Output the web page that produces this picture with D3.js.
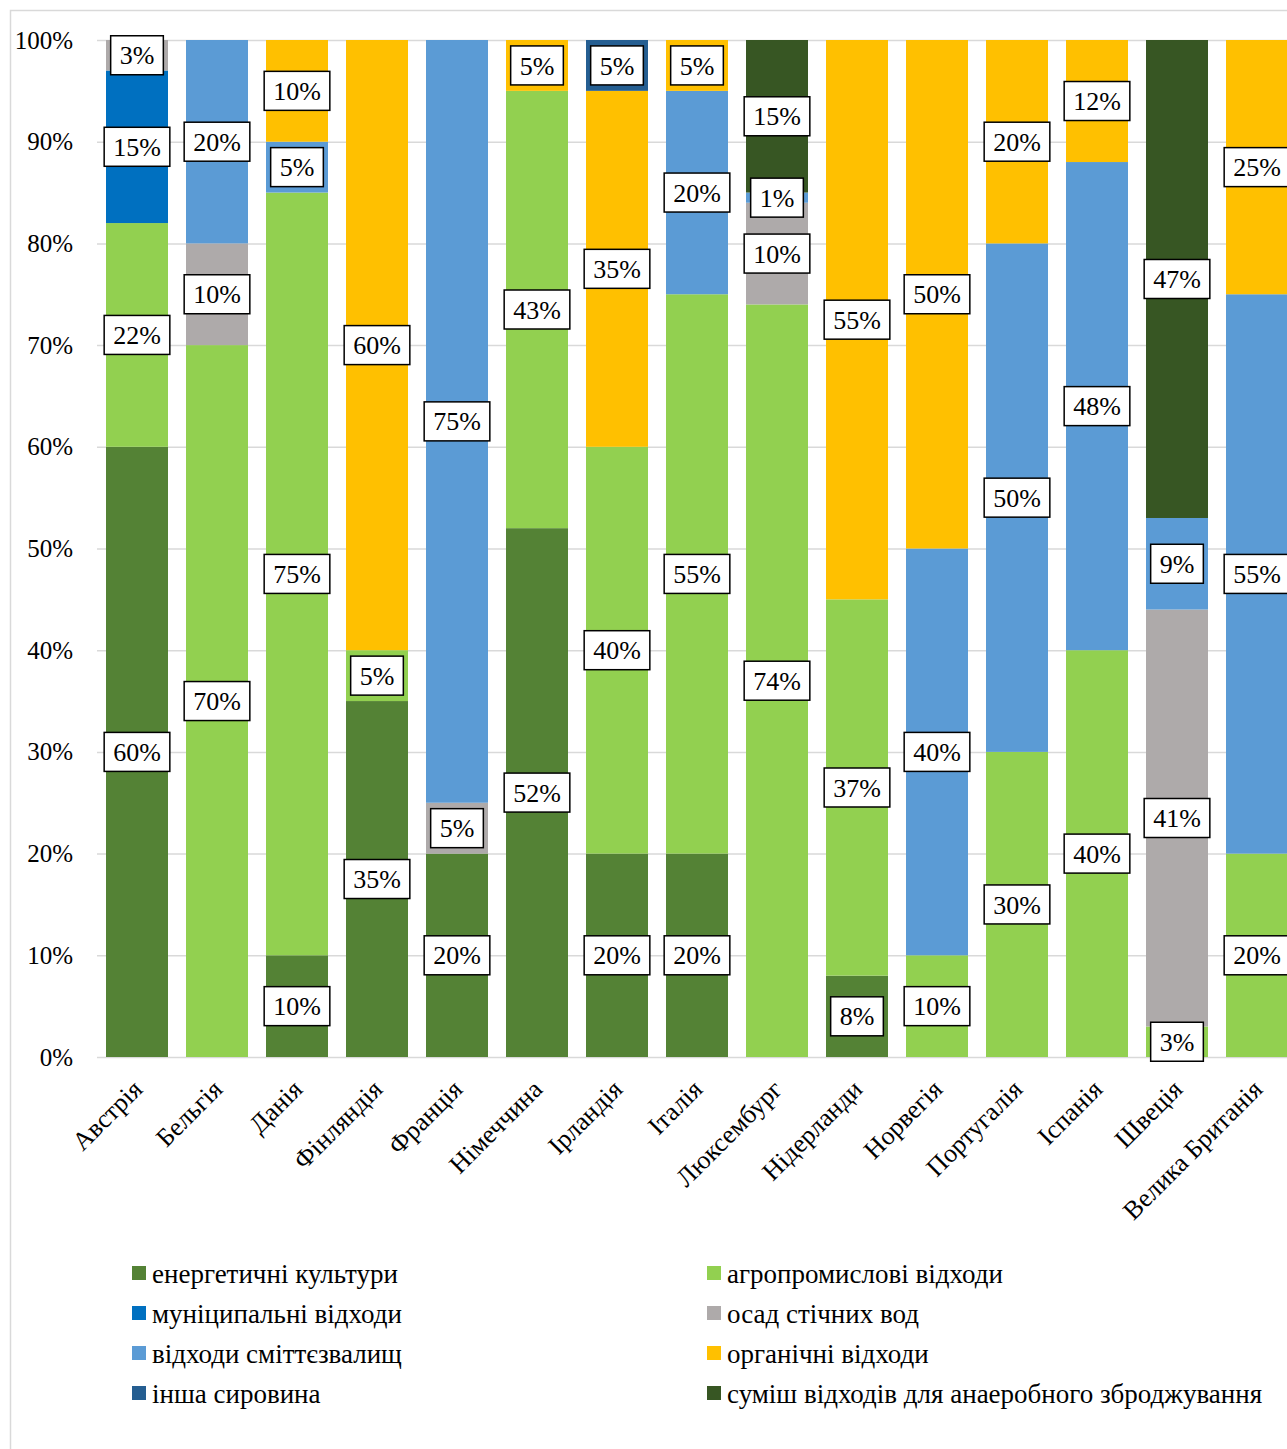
<!DOCTYPE html>
<html>
<head>
<meta charset="utf-8">
<script src="https://cdn.jsdelivr.net/npm/d3@7"></script>
<style>
  body { margin: 0; background: #fff; }
  svg { display: block; }
  svg text { font-family: "Liberation Serif", "Times New Roman", serif; }
</style>
</head>
<body>
<div class="chart"></div>
<script>
// Countries (x axis)
var countries = ["Австрія", "Бельгія", "Данія", "Фінляндія", "Франція", "Німеччина", "Ірландія",
    "Італія", "Люксембург", "Нідерланди", "Норвегія", "Португалія", "Іспанія", "Швеція", "Велика Британія"];

// Series, bottom to top, values in % per country
var seriesNames = ["енергетичні культури", "агропромислові відходи", "муніципальні відходи", "осад стічних вод",
    "відходи сміттєзвалищ", "органічні відходи", "інша сировина", "суміш відходів для анаеробного зброджування"];
var seriesColors = ["#548235", "#92D050", "#0070C0", "#AEAAAA", "#5B9BD5", "#FFC000", "#255E91", "#375623"];

var energy    = [60,  0, 10, 35, 20, 52, 20, 20,  0,  8,  0,  0,  0,  0,  0];
var agro      = [22, 70, 75,  5,  0, 43, 40, 55, 74, 37, 10, 30, 40,  3, 20];
var municipal = [15,  0,  0,  0,  0,  0,  0,  0,  0,  0,  0,  0,  0,  0,  0];
var sewage    = [ 3, 10,  0,  0,  5,  0,  0,  0, 10,  0,  0,  0,  0, 41,  0];
var landfill  = [ 0, 20,  5,  0, 75,  0,  0, 20,  1,  0, 40, 50, 48,  9, 55];
var organic   = [ 0,  0, 10, 60,  0,  5, 35,  5,  0, 55, 50, 20, 12,  0, 25];
var other     = [ 0,  0,  0,  0,  0,  0,  5,  0,  0,  0,  0,  0,  0,  0,  0];
var mix       = [ 0,  0,  0,  0,  0,  0,  0,  0, 15,  0,  0,  0,  0, 47,  0];

var yTicks = [0, 10, 20, 30, 40, 50, 60, 70, 80, 90, 100];

var seriesValues = [energy, agro, municipal, sewage, landfill, organic, other, mix];

var width = 1287, height = 1449;
var FONT = "Liberation Serif, Times New Roman, serif";

var svg = d3.select(".chart").append("svg")
    .attr("width", width)
    .attr("height", height);

// Outer chart border
svg.append("rect")
    .attr("x", 10.5).attr("y", 10.5)
    .attr("width", 1300).attr("height", 1460)
    .attr("fill", "none")
    .attr("stroke", "#d9d9d9")
    .attr("stroke-width", 1.5);

var x = d3.scaleBand()
    .domain(countries)
    .range([97, 1297])
    .paddingInner(0.225)
    .paddingOuter(0.1125);

var y = d3.scaleLinear()
    .domain([0, 100])
    .range([1057, 40]);

// Gridlines + tick labels
var yAxis = svg.append("g")
    .attr("transform", "translate(97,0)")
    .call(d3.axisLeft(y)
        .tickValues(yTicks)
        .tickSize(-1200)
        .tickPadding(24)
        .tickFormat(function (d) { return d + "%"; }));
yAxis.attr("font-family", FONT);
yAxis.select(".domain").remove();
yAxis.selectAll(".tick line").attr("stroke", "#d9d9d9").attr("stroke-width", 1.5);
yAxis.selectAll(".tick text")
    .attr("fill", "#000")
    .attr("font-size", 25)
    .attr("font-family", FONT);

// Build stacked table
var table = countries.map(function (c, i) {
    var row = {country: c};
    seriesNames.forEach(function (s, k) { row[s] = seriesValues[k][i]; });
    return row;
});
var stacked = d3.stack().keys(seriesNames)(table);

var layers = svg.append("g").selectAll("g")
    .data(stacked)
    .enter().append("g")
    .attr("fill", function (d, k) { return seriesColors[k]; });

layers.selectAll("rect")
    .data(function (d) { return d.filter(function (p) { return p[1] > p[0]; }); })
    .enter().append("rect")
    .attr("x", function (p) { return x(p.data.country); })
    .attr("y", function (p) { return y(p[1]); })
    .attr("width", x.bandwidth())
    .attr("height", function (p) { return y(p[0]) - y(p[1]); });

// Data labels
var labels = [];
stacked.forEach(function (layer) {
    layer.forEach(function (p) {
        if (p[1] > p[0]) labels.push({country: p.data.country, v: p[1] - p[0], mid: (p[0] + p[1]) / 2});
    });
});

var lab = svg.append("g").selectAll("g")
    .data(labels)
    .enter().append("g")
    .attr("transform", function (d) {
        return "translate(" + (x(d.country) + x.bandwidth() / 2) + "," + y(d.mid) + ")";
    });

lab.append("text")
    .attr("text-anchor", "middle")
    .attr("dy", "0.35em")
    .attr("font-size", 26)
    .attr("font-family", FONT)
    .attr("fill", "#000")
    .text(function (d) { return d.v + "%"; });

lab.each(function () {
    var g = d3.select(this);
    var w = g.select("text").node().getComputedTextLength();
    g.insert("rect", "text")
        .attr("x", -w / 2 - 9)
        .attr("y", -19.5)
        .attr("width", w + 18)
        .attr("height", 39)
        .attr("fill", "#fff")
        .attr("stroke", "#000")
        .attr("stroke-width", 1.5);
});

// Country labels
svg.append("g").selectAll("text")
    .data(countries)
    .enter().append("text")
    .attr("transform", function (d) {
        return "translate(" + (x(d) + x.bandwidth() / 2 - 6) + ",1078) rotate(-45)";
    })
    .attr("text-anchor", "end")
    .attr("dy", "0.7em")
    .attr("font-size", 26)
    .attr("font-family", FONT)
    .attr("fill", "#000")
    .text(function (d) { return d; });

// Legend
var legend = svg.append("g").selectAll("g")
    .data(seriesNames)
    .enter().append("g")
    .attr("transform", function (d, k) {
        return "translate(" + (k % 2 === 0 ? 132 : 707) + "," + (1274 + Math.floor(k / 2) * 40) + ")";
    });

legend.append("rect")
    .attr("x", 0).attr("y", -8)
    .attr("width", 14).attr("height", 14)
    .attr("fill", function (d, k) { return seriesColors[k]; });

legend.append("text")
    .attr("x", 20)
    .attr("dy", "0.35em")
    .attr("font-size", 27)
    .attr("font-family", FONT)
    .attr("fill", "#000")
    .text(function (d) { return d; });
</script>
</body>
</html>
